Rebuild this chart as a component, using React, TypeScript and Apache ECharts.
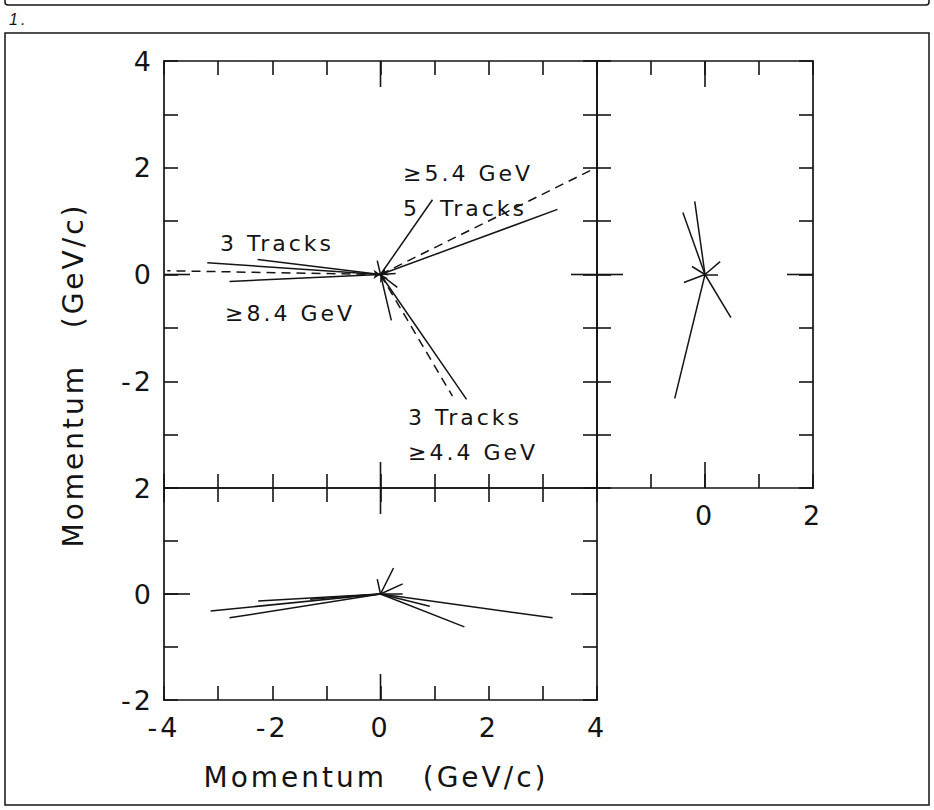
import React, { useEffect, useRef } from "react";
import * as echarts from "echarts";

type Pt = [number, number];

// All tracks leave the event vertex; end points are momentum components in GeV/c.
const VERTEX: Pt = [0, 0];

// Transverse view (upper left panel)
const xySolidTracks: Pt[] = [
  [3.27, 1.22],
  [0.96, 1.4],
  [-3.2, 0.22],
  [-2.27, 0.28],
  [-2.79, -0.13],
  [1.59, -2.34],
  [0.2, -0.86],
  [-0.06, 0.26],
  [0.31, -0.24],
  [0.28, 0.02],
];
const xyDashedTracks: Pt[] = [
  [3.88, 1.95],
  [-3.94, 0.07],
  [1.33, -2.28],
];

// Side view (right panel)
const zySolidTracks: Pt[] = [
  [-0.19, 1.37],
  [-0.41, 1.16],
  [0.28, 0.24],
  [-0.24, 0.15],
  [-0.39, -0.15],
  [0.24, 0.0],
  [0.48, -0.81],
  [-0.56, -2.32],
];

// Top view (lower panel)
const xzSolidTracks: Pt[] = [
  [-3.14, -0.32],
  [-2.79, -0.45],
  [-2.26, -0.13],
  [-1.3, -0.1],
  [3.18, -0.45],
  [1.55, -0.62],
  [0.91, -0.23],
  [0.24, 0.49],
  [0.41, 0.19],
  [-0.06, 0.28],
  [0.41, 0.0],
];

// Axis ranges of the three panels
const xyPanelRange = { x: 4, y: 4 };
const zyPanelRange = { x: 2, y: 4 };
const xzPanelRange = { x: 4, y: 2 };

// Tick labels printed on each panel
const xyPanelYLabels = [4, 2, 0, -2];
const zyPanelXLabels = [0, 2];
const xzPanelXLabels = [-4, -2, 0, 2, 4];
const xzPanelYLabels = [2, 0, -2];

// Jet annotations
const jetLabels = [
  { text: "≥5.4 GeV", x: 403, y: 173 },
  { text: "5  Tracks", x: 403, y: 208 },
  { text: "3 Tracks", x: 220, y: 243 },
  { text: "≥8.4 GeV", x: 225, y: 313 },
  { text: "3 Tracks", x: 408, y: 417 },
  { text: "≥4.4 GeV", x: 408, y: 452 },
];

const AXIS_TITLE = "Momentum   (GeV/c)";

const INK = "#141414";
const FONT = '"DejaVu Sans", sans-serif';
const ZERO_TICK = 26;

function frameAxes(
  dim: "x" | "y",
  gridIndex: number,
  extent: number,
  labels: number[]
) {
  const [near, far] = dim === "x" ? ["bottom", "top"] : ["left", "right"];
  const base = {
    type: "value",
    gridIndex,
    min: -extent,
    max: extent,
    interval: 1,
    splitLine: { show: false },
    splitArea: { show: false },
    axisPointer: { show: false },
    silent: true,
    axisLine: { show: true, onZero: false, lineStyle: { color: INK, width: 1.7 } },
    axisTick: { show: true, inside: true, length: 14, lineStyle: { color: INK, width: 1.6 } },
  };
  return [
    {
      ...base,
      position: near,
      axisLabel: {
        show: labels.length > 0,
        margin: dim === "x" ? 14 : 10,
        showMinLabel: true,
        showMaxLabel: true,
        color: INK,
        fontFamily: FONT,
        fontSize: 27,
        formatter: (v: number) => (labels.includes(v) ? String(v) : ""),
      },
    },
    { ...base, position: far, axisLabel: { show: false } },
  ];
}

// Longer ticks marking zero on every edge of a panel: [x, y, inward dx, inward dy]
function zeroTickSeries(axisIndex: number, range: { x: number; y: number }) {
  return {
    type: "custom",
    xAxisIndex: axisIndex,
    yAxisIndex: axisIndex,
    silent: true,
    clip: false,
    encode: { x: 0, y: 1 },
    data: [
      [0, -range.y, 0, -1],
      [0, range.y, 0, 1],
      [-range.x, 0, 1, 0],
      [range.x, 0, -1, 0],
    ],
    renderItem: (_params: any, api: any) => {
      const p = api.coord([api.value(0), api.value(1)]);
      return {
        type: "line",
        shape: {
          x1: p[0],
          y1: p[1],
          x2: p[0] + api.value(2) * ZERO_TICK,
          y2: p[1] + api.value(3) * ZERO_TICK,
        },
        style: { stroke: INK, lineWidth: 1.6 },
      };
    },
    z: 4,
  };
}

function trackSeries(tracks: Pt[], axisIndex: number, dashed: boolean) {
  return {
    type: "lines",
    coordinateSystem: "cartesian2d",
    xAxisIndex: axisIndex,
    yAxisIndex: axisIndex,
    polyline: false,
    silent: true,
    symbol: dashed ? ["arrow", "none"] : ["none", "none"],
    symbolSize: 7,
    lineStyle: {
      color: INK,
      width: 1.5,
      opacity: 1,
      curveness: 0,
      type: dashed ? [9, 6] : "solid",
    },
    data: tracks.map((p) => ({ coords: [VERTEX, p] })),
    z: 3,
  };
}

export default function App() {
  const ref = useRef<HTMLDivElement>(null);

  useEffect(() => {
    if (!ref.current) return;
    const chart = echarts.init(ref.current, undefined, { renderer: "svg" });

    const grids = [
      { left: 164, top: 61, width: 433, height: 427 }, // transverse view
      { left: 597, top: 61, width: 216, height: 427 }, // side view
      { left: 164, top: 488, width: 433, height: 212 }, // top view
    ].map((g) => ({ ...g, containLabel: false, outerBoundsMode: "none", show: false }));

    // two axes per side per panel: index 0/2/4 carry the panels' series
    const xAxis = [
      ...frameAxes("x", 0, xyPanelRange.x, []),
      ...frameAxes("x", 1, zyPanelRange.x, zyPanelXLabels),
      ...frameAxes("x", 2, xzPanelRange.x, xzPanelXLabels),
    ];
    const yAxis = [
      ...frameAxes("y", 0, xyPanelRange.y, xyPanelYLabels),
      ...frameAxes("y", 1, zyPanelRange.y, []),
      ...frameAxes("y", 2, xzPanelRange.y, xzPanelYLabels),
    ];

    const textStyle = (text: string, size: number) => ({
      text,
      fill: INK,
      fontSize: size,
      fontFamily: FONT,
    });

    chart.setOption({
      animation: false,
      backgroundColor: "#ffffff",
      grid: grids,
      xAxis,
      yAxis,
      series: [
        trackSeries(xySolidTracks, 0, false),
        trackSeries(xyDashedTracks, 0, true),
        trackSeries(zySolidTracks, 2, false),
        trackSeries(xzSolidTracks, 4, false),
        zeroTickSeries(0, xyPanelRange),
        zeroTickSeries(2, zyPanelRange),
        zeroTickSeries(4, xzPanelRange),
      ],
      graphic: [
        {
          type: "rect",
          silent: true,
          shape: { x: 5, y: -20, width: 924, height: 25, r: 3 },
          style: { fill: "none", stroke: INK, lineWidth: 1.5 },
        },
        {
          type: "rect",
          silent: true,
          shape: { x: 5, y: 33, width: 924, height: 772 },
          style: { fill: "none", stroke: INK, lineWidth: 1.5 },
        },
        {
          type: "text",
          silent: true,
          x: 9,
          y: 19,
          style: {
            ...textStyle("1.", 16),
            fontStyle: "italic",
            fontFamily: '"Liberation Sans", sans-serif',
            verticalAlign: "middle",
            textVerticalAlign: "middle",
          },
        },
        {
          type: "text",
          silent: true,
          x: 376,
          y: 777,
          style: {
            ...textStyle(AXIS_TITLE, 28),
            align: "center",
            textAlign: "center",
            verticalAlign: "middle",
            textVerticalAlign: "middle",
          },
        },
        {
          type: "text",
          silent: true,
          x: 73,
          y: 375,
          rotation: Math.PI / 2,
          style: {
            ...textStyle(AXIS_TITLE, 28),
            align: "center",
            textAlign: "center",
            verticalAlign: "middle",
            textVerticalAlign: "middle",
          },
        },
        ...jetLabels.map((l) => ({
          type: "text",
          silent: true,
          x: l.x,
          y: l.y,
          style: {
            ...textStyle(l.text, 22),
            align: "left",
            textAlign: "left",
            verticalAlign: "middle",
            textVerticalAlign: "middle",
          },
        })),
      ],
    });

    return () => chart.dispose();
  }, []);

  return (
    <div
      ref={ref}
      style={{
        position: "absolute",
        left: 0,
        top: 0,
        width: 934,
        height: 810,
        letterSpacing: "3px",
        whiteSpace: "pre",
        background: "#fff",
      }}
    />
  );
}
